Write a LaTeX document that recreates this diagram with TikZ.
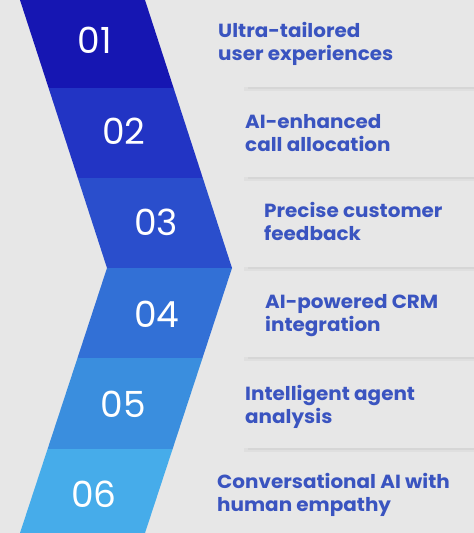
\documentclass[tikz,border=0pt]{standalone}
\usepackage{fontspec}
\setmainfont{Poppins}
\newfontfamily\itemfont{Poppins}[FakeStretch=1.05]
\usetikzlibrary{calc}
\definecolor{bgc}{RGB}{231,231,231}
\definecolor{sepc}{RGB}{214,214,214}
\definecolor{txtc}{RGB}{58,84,192}
\definecolor{cA}{RGB}{22,22,178}
\definecolor{cB}{RGB}{34,52,196}
\definecolor{cC}{RGB}{42,78,204}
\definecolor{cD}{RGB}{50,112,214}
\definecolor{cE}{RGB}{58,142,222}
\definecolor{cF}{RGB}{70,172,234}
\tikzset{
  numlabel/.style={text=white, font=\fontsize{36}{36}\selectfont, inner sep=0pt, anchor=center},
  itemlabel/.style={text=txtc, font=\itemfont\bfseries\fontsize{19}{23.5}\selectfont, inner sep=0pt, anchor=base west, align=left},
}
\begin{document}
\begin{tikzpicture}[x=1pt,y=-1pt]
\useasboundingbox (0,0) rectangle (474,533);
\fill[bgc] (0,0) rectangle (474,533);
% band coordinates
\coordinate (l0) at (20,0);     \coordinate (r0) at (145,0);
\coordinate (l1) at (48.6,88);  \coordinate (r1) at (173.6,88);
\coordinate (l2) at (77.8,178); \coordinate (r2) at (202.8,178);
\coordinate (l3) at (107,268);  \coordinate (r3) at (232,268);
\coordinate (l4) at (77.5,358); \coordinate (r4) at (202.5,358);
\coordinate (l5) at (47.6,449); \coordinate (r5) at (172.6,449);
\coordinate (l6) at (20,533);   \coordinate (r6) at (145,533);
% separators (soft shadows of the text panels)
\foreach \yy in {88,178,268,358,449}{
  \draw[sepc!50!bgc, line width=4pt] (244,\yy+1) -- (474,\yy+1);
  \draw[sepc, line width=1.2pt] (248,\yy) -- (474,\yy);
}
% segments
\fill[cA] (l0) -- (r0) -- (r1) -- (l1) -- cycle;
\fill[cB] (l1) -- (r1) -- (r2) -- (l2) -- cycle;
\fill[cC] (l2) -- (r2) -- (r3) -- (l3) -- cycle;
\fill[cD] (l3) -- (r3) -- (r4) -- (l4) -- cycle;
\fill[cE] (l4) -- (r4) -- (r5) -- (l5) -- cycle;
\fill[cF] (l5) -- (r5) -- (r6) -- (l6) -- cycle;
% numbers
\node[numlabel] (n1) at (95,40) {01};
\node[numlabel] (n2) at (124,131) {02};
\node[numlabel] (n3) at (156,222) {03};
\node[numlabel] (n4) at (157,314) {04};
\node[numlabel] (n5) at (123,404) {05};
\node[numlabel] (n6) at (94,494) {06};
% labels (anchor = baseline of the last line)
\node[itemlabel] (t1) at (218,60.5) {Ultra-tailored\\user experiences};
\node[itemlabel] (t2) at (245,151.5) {AI-enhanced\\call allocation};
\node[itemlabel] (t3) at (264,240.5) {Precise customer\\feedback};
\node[itemlabel] (t4) at (265,331.5) {AI-powered CRM\\integration};
\node[itemlabel] (t5) at (245,423.5) {Intelligent agent\\analysis};
\node[itemlabel] (t6) at (217,511.5) {Conversational AI with\\human empathy};
\end{tikzpicture}
\end{document}
